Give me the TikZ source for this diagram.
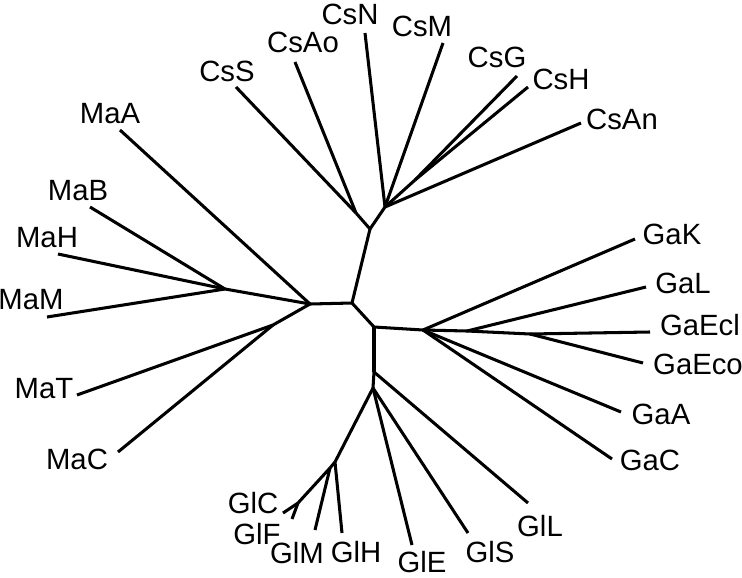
\documentclass[tikz,border=0pt]{standalone}
\usepackage{fontspec}
\setmainfont{Liberation Sans}
\begin{document}
\begin{tikzpicture}[x=0.03cm, y=-0.03cm, line width=2.6pt, line join=round,
        taxon/.style={inner sep=0pt, font=\fontsize{25}{30}\selectfont}]
        \useasboundingbox (0,0) rectangle (742,577);

        % inner nodes
        \coordinate (mid) at (352,303);
        \coordinate (ma) at (310,304);
        \coordinate (ma1) at (225,289);
        \coordinate (ma2) at (273,325);
        \coordinate (cs) at (370,229);
        \coordinate (cs1) at (356,213);
        \coordinate (cs2) at (385,207);
        \coordinate (cs3) at (415,180);
        \coordinate (gg) at (374,327);
        \coordinate (ga) at (423,330);
        \coordinate (ga1) at (467,331);
        \coordinate (ga2) at (530,334);
        \coordinate (gl) at (374,372);
        \coordinate (gl1) at (373,388);
        \coordinate (gl2) at (335,462);
        \coordinate (gl3) at (330,468);
        \coordinate (gl4) at (298,503);

        % tips
        \coordinate (tMaA) at (120,130);
        \coordinate (tMaB) at (90,207);
        \coordinate (tMaH) at (58,254);
        \coordinate (tMaM) at (47,317);
        \coordinate (tMaT) at (77,395);
        \coordinate (tMaC) at (118,452);
        \coordinate (tCsS) at (236,87);
        \coordinate (tCsAo) at (295,62);
        \coordinate (tCsN) at (365,33);
        \coordinate (tCsM) at (443,43);
        \coordinate (tCsG) at (517,76);
        \coordinate (tCsH) at (528,87);
        \coordinate (tCsAn) at (581,123);
        \coordinate (tGaK) at (635,239);
        \coordinate (tGaL) at (646,287);
        \coordinate (tGaEcl) at (650,332);
        \coordinate (tGaEco) at (643,363);
        \coordinate (tGaA) at (621,412);
        \coordinate (tGaC) at (612,459);
        \coordinate (tGlL) at (528,503);
        \coordinate (tGlS) at (468,533);
        \coordinate (tGlE) at (412,545);
        \coordinate (tGlH) at (342,533);
        \coordinate (tGlM) at (315,530);
        \coordinate (tGlF) at (292,519);
        \coordinate (tGlC) at (283,513);

        % backbone
        \draw (ma) -- (mid);
        \draw (mid) -- (cs);
        \draw (mid) -- (gg);
        \draw (gg) -- (ga);
        \draw (gg) -- (gl);

        % Ma
        \draw (ma) -- (tMaA);
        \draw (ma) -- (ma1);
        \draw (ma) -- (ma2);
        \draw (ma1) -- (tMaB);
        \draw (ma1) -- (tMaH);
        \draw (ma1) -- (tMaM);
        \draw (ma2) -- (tMaT);
        \draw (ma2) -- (tMaC);

        % Cs
        \draw (cs) -- (cs1);
        \draw (cs1) -- (tCsS);
        \draw (cs1) -- (tCsAo);
        \draw (cs) -- (cs2);
        \draw (cs2) -- (tCsN);
        \draw (cs2) -- (tCsM);
        \draw (cs2) -- (cs3);
        \draw (cs3) -- (tCsG);
        \draw (cs3) -- (tCsH);
        \draw (cs2) -- (tCsAn);

        % Ga
        \draw (ga) -- (tGaK);
        \draw (ga) -- (ga1);
        \draw (ga1) -- (tGaL);
        \draw (ga1) -- (ga2);
        \draw (ga2) -- (tGaEcl);
        \draw (ga2) -- (tGaEco);
        \draw (ga) -- (tGaA);
        \draw (ga) -- (tGaC);

        % Gl
        \draw (gl) -- (tGlL);
        \draw (gl) -- (gl1);
        \draw (gl1) -- (tGlS);
        \draw (gl1) -- (tGlE);
        \draw (gl1) -- (gl2);
        \draw (gl2) -- (tGlH);
        \draw (gl2) -- (gl3);
        \draw (gl3) -- (tGlM);
        \draw (gl3) -- (gl4);
        \draw (gl4) -- (tGlF);
        \draw (gl4) -- (tGlC);

        % labels
        \node[taxon] (MaA) at (110,114) {MaA};
        \node[taxon] (MaB) at (78,191) {MaB};
        \node[taxon] (MaH) at (47,238) {MaH};
        \node[taxon] (MaM) at (31,300) {MaM};
        \node[taxon] (MaT) at (44,389) {MaT};
        \node[taxon] (MaC) at (77,459) {MaC};
        \node[taxon] (CsS) at (227,71) {CsS};
        \node[taxon] (CsAo) at (303,42) {CsAo};
        \node[taxon] (CsN) at (350,14) {CsN};
        \node[taxon] (CsM) at (422,26) {CsM};
        \node[taxon] (CsG) at (497,57) {CsG};
        \node[taxon] (CsH) at (561,79) {CsH};
        \node[taxon] (CsAn) at (622,119) {CsAn};
        \node[taxon] (GaK) at (672,234) {GaK};
        \node[taxon] (GaL) at (683,283) {GaL};
        \node[taxon] (GaEcl) at (700,325) {GaEcl};
        \node[taxon] (GaEco) at (698,364) {GaEco};
        \node[taxon] (GaA) at (661,414) {GaA};
        \node[taxon] (GaC) at (650,460) {GaC};
        \node[taxon] (GlL) at (540,526) {GlL};
        \node[taxon] (GlS) at (490,552) {GlS};
        \node[taxon] (GlE) at (422,562) {GlE};
        \node[taxon] (GlH) at (356,552) {GlH};
        \node[taxon] (GlM) at (297,553) {GlM};
        \node[taxon] (GlF) at (257,534) {GlF};
        \node[taxon] (GlC) at (253,503) {GlC};

    \end{tikzpicture}
\end{document}
